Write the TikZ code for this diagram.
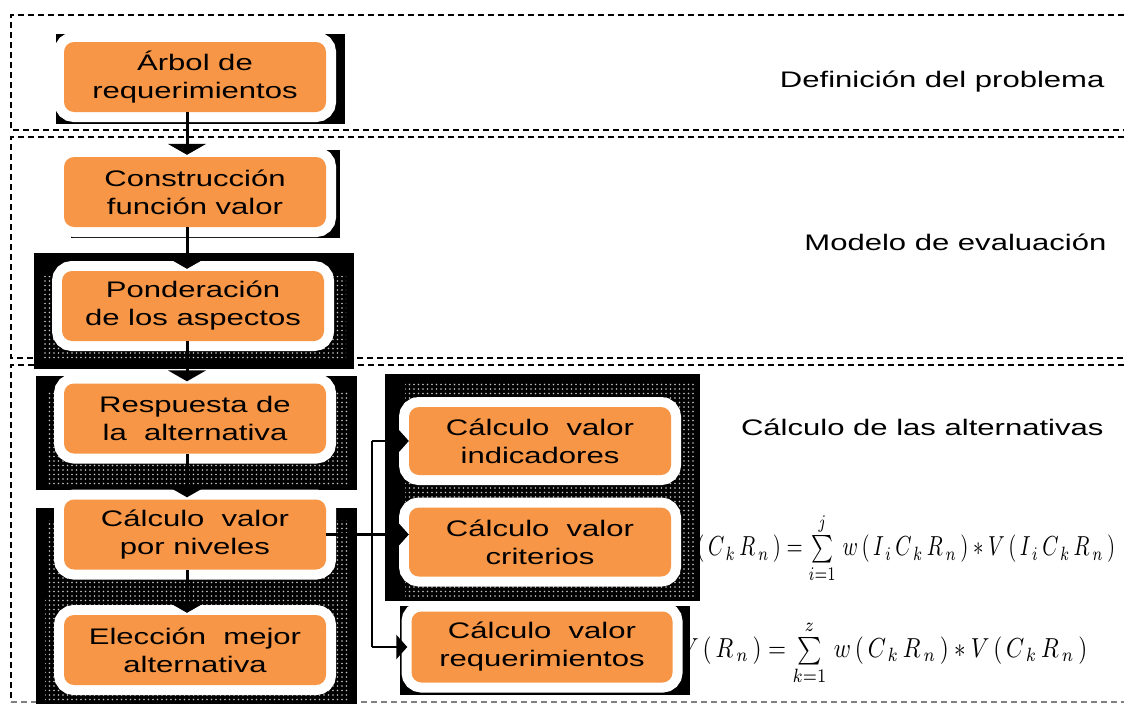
\documentclass[tikz,border=0pt]{standalone}
\usepackage{fontspec}
\setmainfont{Liberation Sans}[FakeStretch=1.38]
\usetikzlibrary{arrows.meta,patterns}
\definecolor{boxorange}{HTML}{F79646}

% coarse dot texture used for the shadow bands
\pgfdeclarepatternformonly{coarsedots}{\pgfqpoint{-1pt}{-1pt}}{\pgfqpoint{1pt}{1pt}}{\pgfqpoint{4.5pt}{4.5pt}}%
  {\pgfpathcircle{\pgfqpoint{0pt}{0pt}}{0.85pt}\pgfusepath{fill}}

\tikzset{
  stepbox/.style={fill=boxorange, rounded corners=10pt, minimum width=262pt,
    minimum height=70pt, inner sep=0pt, align=center,
    font=\fontsize{22.5}{28}\selectfont,
    preaction={draw=white, line width=20pt}},
  backing/.style={fill=black},
  dotband/.style={pattern=coarsedots, pattern color=gray!45},
  region/.style={line width=1.3pt, dash pattern=on 6pt off 4pt},
  flow/.style={line width=3pt, -{Triangle[width=38pt,length=11pt]}},
  branch/.style={line width=2.5pt, -{Triangle[width=24pt,length=11pt]}},
  secname/.style={anchor=east, font=\fontsize{22.5}{28}\selectfont},
  formula/.style={anchor=west, inner sep=0pt},
}

\begin{document}
\begin{tikzpicture}[x=1pt,y=-1pt]
\useasboundingbox (0,0) rectangle (1124,704);

% stage frames
\draw[region] (1124,15) -- (11,15) -- (11,130) -- (1124,130);
\draw[region] (1124,137) -- (11,137) -- (11,358) -- (1124,358);
\draw[region] (1124,365) -- (11,365) -- (11,702);
\draw[region, gray] (11,702) -- (1124,702);

% stage names
\node[secname] (s1) at (1108,82) {Definición del problema};
\node[secname] (s2) at (1110,242) {Modelo de evaluación};
\node[secname] (s3) at (1107,427) {Cálculo de las alternativas};

% value formulas
\node[formula] (f1) at (676,548)
  {\resizebox*{439pt}{2.75\totalheight}{$V\,(\,C_{\,k}\,R_{\,n}\,) = \sum\limits_{i=1}^{j}\, w\,(\,I_{\,i}\,C_{\,k}\,R_{\,n}\,) * V\,(\,I_{\,i}\,C_{\,k}\,R_{\,n}\,)$}};
\node[formula] (f2) at (680,653)
  {\resizebox*{407pt}{2.75\totalheight}{$V\,(\,R_{\,n}\,) = \sum\limits_{k=1}^{z}\, w\,(\,C_{\,k}\,R_{\,n}\,) * V\,(\,C_{\,k}\,R_{\,n}\,)$}};

% dark backings behind the boxes
\fill[backing] (56,34) rectangle (345,124);
\fill[backing] (71,150) rectangle (340,238);
\fill[backing] (34,253) rectangle (354,369);
\fill[backing] (36,376) rectangle (357,490);
\fill[backing] (36,508) rectangle (357,704);
\fill[backing] (385,374) rectangle (700,601);
\fill[backing] (400,606) rectangle (690,695);

% dotted shadow bands
\fill[dotband] (44,276) rectangle (346,360);
\fill[dotband] (46,392) rectangle (349,484);
\fill[dotband] (46,520) rectangle (350,596);
\fill[dotband] (45,598) rectangle (350,702);
\fill[dotband] (405,381) rectangle (695,598);

% process steps
\node[stepbox] (n1) at (195,77)    {Árbol de\\requerimientos};
\node[stepbox] (n2) at (195,192)   {Construcción\\función valor};
\node[stepbox] (n3) at (193,306)   {Ponderación\\de los aspectos};
\node[stepbox] (n4) at (195,418.5) {Respuesta de\\la\ \ alternativa};
\node[stepbox] (n5) at (195,534.5) {Cálculo\ \ valor\\por niveles};
\node[stepbox] (n6) at (195,650)   {Elección\ \ mejor\\alternativa};
\node[stepbox, minimum height=68pt] (n7) at (540,441) {Cálculo\ \ valor\\indicadores};
\node[stepbox, minimum height=69pt] (n8) at (540,542) {Cálculo\ \ valor\\criterios};
\node[stepbox, minimum width=261pt, minimum height=71pt] (n9) at (542,647) {Cálculo\ \ valor\\requerimientos};

% main flow
\coordinate (spine) at (187,0);
\draw[flow] (n1.south -| spine) -- ([yshift=2pt]n2.north -| spine);
\draw[flow] (n2.south -| spine) -- ([yshift=2pt]n3.north -| spine);
\draw[flow] (n3.south -| spine) -- ([yshift=2pt]n4.north -| spine);
\draw[flow] (n4.south -| spine) -- ([yshift=2pt]n5.north -| spine);
\draw[flow] (n5.south -| spine) -- ([yshift=2pt]n6.north -| spine);

% branch to the level calculations
\coordinate (fork) at (372,0);
\draw[line width=2.5pt] (n7.west -| fork) -- (n9.west -| fork);
\draw[branch] (n5.east) -- (n5.east -| n8.west);
\draw[branch] (n7.west -| fork) -- (n7.west);
\draw[branch] (n9.west -| fork) -- ([xshift=-4pt]n9.west);
\end{tikzpicture}
\end{document}
